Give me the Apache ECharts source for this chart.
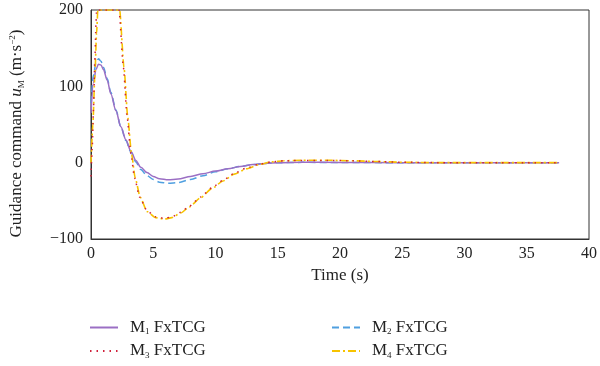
<!DOCTYPE html>
<html><head><meta charset="utf-8">
<script src="https://cdn.jsdelivr.net/npm/echarts@6/dist/echarts.min.js"></script>
<style>html,body{margin:0;padding:0;background:#fff}#c{width:600px;height:366px}</style>
</head><body><div id="c"></div>
<script>
var xTicks = [0,5,10,15,20,25,30,35,40];
var yTicks = [-100,0,100,200];

var t1 = [0,0.2,0.4,0.6,0.8,1.0,1.3,1.6,2.0,2.4,2.8,3.2,3.6,4.0,4.5,5.0,5.5,6.2,7,8,9,10,11,12,13,14,15,17,20,25,30,37.6];
var m1 = [65,105,122,129,128,122,108,90,68,47,30,15,3,-6,-13,-18,-21,-22.5,-21.5,-18,-14.5,-11,-8,-5,-2.5,-1,0,0.5,0.3,0,0,0];

var t2 = [0,0.2,0.4,0.6,0.8,1.0,1.3,1.6,2.0,2.4,2.8,3.2,3.6,4.0,4.5,5.0,5.5,6.2,7,8,9,10,11,12,13,14,15,17,20,25,30,37.6];
var m2 = [78,115,131,136,133,125,110,92,69,47,29,14,1,-9,-17,-22,-25.5,-27,-26,-22,-17,-12,-8,-5,-2.5,-1,0,0.4,0.2,0,0,0];

var t3 = [0,0.1,0.2,0.3,0.4,0.45,2.25,2.6,2.9,3.2,3.5,3.9,4.5,5.2,5.9,6.5,7.2,7.9,8.8,9.7,10.6,11.5,12.5,13.5,14.5,15.5,17,19,21,23,25,28,37.6];
var m3 = [-18,20,70,130,180,200,200,125,60,12,-20,-45,-63,-71,-73,-71,-65,-57,-45,-33,-23,-14,-7,-2,1,2.5,3,3,2.5,1.5,0.5,0,0];

var t4 = [0,0.15,0.3,0.45,0.55,2.3,2.65,2.95,3.25,3.55,3.95,4.5,5.2,5.9,6.5,7.2,7.9,8.8,9.7,10.6,11.5,12.5,13.5,14.5,15.5,17,19,21,23,25,28,37.6];
var m4 = [0,50,110,170,200,200,125,60,12,-20,-45,-64,-72,-74,-72,-66,-58,-46,-34,-24,-15,-8,-2.5,1,2.5,3.2,3.2,2.5,1.5,0.5,0,0];

var names = ['M1 FxTCG','M2 FxTCG','M3 FxTCG','M4 FxTCG'];
var colors = ['#9b6fc4','#4f9fe0','#d0203a','#f7c300'];

function pairs(t,v){return t.map(function(x,i){return [x,v[i]];});}

var FONT = '"Liberation Serif","DejaVu Serif",serif';
var rich = {
  g:{width:7},
  n:{fontFamily:FONT,fontSize:17,color:'#222'},
  s:{fontFamily:FONT,fontSize:9,color:'#222',verticalAlign:'bottom',padding:[9,0,0,0]}
};
function legFmt(name){
  var k = name.charAt(1);
  return '{g|}{n|M}{s|' + k + '}{n| FxTCG}';
}
var legBase = {orient:'vertical',top:314,itemWidth:28,itemHeight:12,itemGap:6,
  formatter:legFmt,textStyle:{rich:rich,fontFamily:FONT,fontSize:17},selectedMode:false,
  itemStyle:{opacity:0}};

var chart = echarts.init(document.getElementById('c'));
chart.setOption({
  animation:false,
  backgroundColor:'#fff',
  grid:{left:91,right:9,top:10,bottom:127,show:true,borderColor:'#333',borderWidth:1,backgroundColor:'transparent'},
  legend:[
    Object.assign({}, legBase, {data:[names[0],names[2]],left:84}),
    Object.assign({}, legBase, {data:[names[1],names[3]],left:326})
  ],
  xAxis:{type:'value',min:0,max:40,interval:5,
    name:'Time (s)',nameLocation:'middle',nameGap:28,
    nameTextStyle:{fontFamily:FONT,fontSize:17,color:'#222'},
    axisLine:{onZero:false,lineStyle:{color:'#333',width:1}},axisTick:{show:false},splitLine:{show:false},
    axisLabel:{fontFamily:FONT,fontSize:16,color:'#222',margin:7}},
  yAxis:{type:'value',min:-100,max:200,interval:100,
    name:'{a|Guidance command }{i|u}{sb|M}{a| (m·s}{sp|−2}{a|)}',nameLocation:'middle',nameGap:65,nameRotate:90,
    nameTextStyle:{padding:[0,18,0,0],rich:{
      a:{fontFamily:FONT,fontSize:17,color:'#222'},
      i:{fontFamily:FONT,fontSize:17,fontStyle:'italic',color:'#222'},
      sb:{fontFamily:FONT,fontSize:9,color:'#222',verticalAlign:'bottom',padding:[9,0,0,0]},
      sp:{fontFamily:FONT,fontSize:9,color:'#222',verticalAlign:'top',padding:[0,0,9,0]}
    }},
    axisLine:{show:true,onZero:false,lineStyle:{color:'#333',width:1}},axisTick:{show:false},splitLine:{show:false},
    axisLabel:{fontFamily:FONT,fontSize:16,color:'#222',margin:8,formatter:function(v){return String(v).replace('-','\u2212');}}},
  series:[
    {name:names[1],type:'line',showSymbol:false,symbol:'none',smooth:0.3,smoothMonotone:'x',data:pairs(t2,m2),
     lineStyle:{color:colors[1],width:1.5,type:[7,4]},itemStyle:{color:colors[1]}},
    {name:names[0],type:'line',showSymbol:false,symbol:'none',smooth:0.3,smoothMonotone:'x',data:pairs(t1,m1),
     lineStyle:{color:colors[0],width:1.5,type:'solid'},itemStyle:{color:colors[0]}},
    {name:names[3],type:'line',showSymbol:false,symbol:'none',smooth:0.2,smoothMonotone:'x',data:pairs(t4,m4),
     lineStyle:{color:colors[3],width:1.6,type:[8,3,2,3]},itemStyle:{color:colors[3]}},
    {name:names[2],type:'line',showSymbol:false,symbol:'none',smooth:0.2,smoothMonotone:'x',data:pairs(t3,m3),
     lineStyle:{color:colors[2],width:1.5,type:[1.5,5]},itemStyle:{color:colors[2]}}
  ]
});
</script></body></html>
